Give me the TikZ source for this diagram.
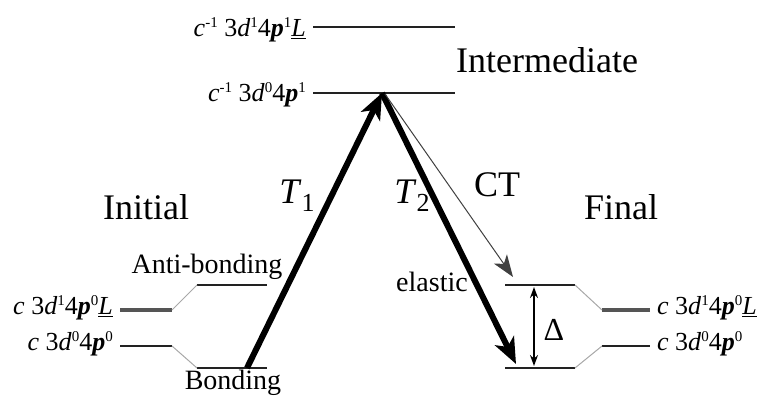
\documentclass[tikz,border=0pt]{standalone}
\usepackage{fontspec}
\setmainfont{Liberation Serif}
\usetikzlibrary{arrows.meta,positioning}
\definecolor{levelDark}{HTML}{222222}
\definecolor{levelThick}{HTML}{555555}
\definecolor{linkGray}{HTML}{A8A8A8}
\newcommand{\up}[1]{\raisebox{9pt}{\fontsize{15}{15}\selectfont #1}}
\newcommand{\down}[1]{\raisebox{-8pt}{\fontsize{26}{26}\selectfont #1}}

\begin{document}
\begin{tikzpicture}[x=1pt,y=-1pt,
    every node/.style={font=\fontsize{28}{32}\selectfont, inner sep=0pt},
    big/.style={font=\fontsize{36}{40}\selectfont},
    cfg/.style={font=\fontsize{26}{30}\selectfont},
    level/.style={line width=2pt, levelDark},
    llevel/.style={line width=4.5pt, levelThick},
    link/.style={line width=1pt, linkGray},
    trans/.style={line width=6pt, -{Stealth[length=26pt,width=21pt,inset=7pt]}}]
  \useasboundingbox (0,0) rectangle (764,401);

  % intermediate levels
  \coordinate (iuL) at (313,27);  \coordinate (iuR) at (455,27);
  \coordinate (ilL) at (313,93);  \coordinate (ilR) at (455,93);
  \coordinate (top) at (382,93);
  \draw[level] (iuL) -- (iuR);
  \draw[level] (ilL) -- (ilR);
  \node[cfg, anchor=east] (iuLab) at (306,30) {\textit{c}\up{-1} 3\textit{d}\up{1}4\textbf{\textit{p}}\up{1}\underline{\textit{L}}};
  \node[cfg, anchor=east] (ilLab) at (306,95) {\textit{c}\up{-1} 3\textit{d}\up{0}4\textbf{\textit{p}}\up{1}};
  \node[big] (inter) at (547,60) {Intermediate};

  % initial levels
  \coordinate (aL) at (120,310);  \coordinate (aR) at (172,310);
  \coordinate (bL) at (120,346);  \coordinate (bR) at (172,346);
  \coordinate (abL) at (197,285); \coordinate (abR) at (267,285);
  \coordinate (boL) at (197,368); \coordinate (boR) at (267,368);
  \draw[llevel] (aL) -- (aR);
  \draw[level] (bL) -- (bR);
  \draw[level] (abL) -- (abR);
  \draw[level] (boL) -- (boR);
  \draw[link] (aR) -- (abL);
  \draw[link] (bR) -- (boL);
  \node[cfg, anchor=east] (aLab) at (113,308) {\textit{c} 3\textit{d}\up{1}4\textbf{\textit{p}}\up{0}\underline{\textit{L}}};
  \node[cfg, anchor=east] (bLab) at (113,344) {\textit{c} 3\textit{d}\up{0}4\textbf{\textit{p}}\up{0}};
  \node (anti) at (207,267) {Anti-bonding};
  \node (bond) at (233,383) {Bonding};
  \node[big] (init) at (146,207) {Initial};

  % final levels
  \coordinate (fuL) at (505,285); \coordinate (fuR) at (575,285);
  \coordinate (flL) at (505,368); \coordinate (flR) at (575,368);
  \coordinate (faL) at (602,310); \coordinate (faR) at (650,310);
  \coordinate (fbL) at (602,346); \coordinate (fbR) at (650,346);
  \draw[level] (fuL) -- (fuR);
  \draw[level] (flL) -- (flR);
  \draw[llevel] (faL) -- (faR);
  \draw[level] (fbL) -- (fbR);
  \draw[link] (fuR) -- (faL);
  \draw[link] (flR) -- (fbL);
  \node[cfg, anchor=west] (faLab) at (657,308) {\textit{c} 3\textit{d}\up{1}4\textbf{\textit{p}}\up{0}\underline{\textit{L}}};
  \node[cfg, anchor=west] (fbLab) at (657,344) {\textit{c} 3\textit{d}\up{0}4\textbf{\textit{p}}\up{0}};
  \node[big] (fin) at (621,207) {Final};

  % transitions
  \coordinate (t1s) at (247,368);
  \coordinate (t2e) at (516,364);
  \coordinate (ctS) at (385,94);
  \coordinate (ctE) at (513,277);
  \coordinate (dU) at (534,287);
  \coordinate (dD) at (534,366);
  \draw[trans] (t1s) -- (top);
  \draw[trans] (top) -- (t2e);
  \draw[line width=1pt, black!75, -{Stealth[length=22pt,width=16pt,inset=6pt]}] (ctS) -- (ctE);
  \draw[line width=1.5pt, {Stealth[length=11pt,width=8pt]}-{Stealth[length=11pt,width=8pt]}] (dU) -- (dD);
  \node[big] (t1) at (297,196) {\textit{T}\down{1}};
  \node[big] (t2) at (412,196) {\textit{T}\down{2}};
  \node[big] (ct) at (497,185) {CT};
  \node (el) at (432,282) {elastic};
  \node[font=\fontsize{32}{36}\selectfont] (delta) at (554,330) {Δ};
\end{tikzpicture}
\end{document}
